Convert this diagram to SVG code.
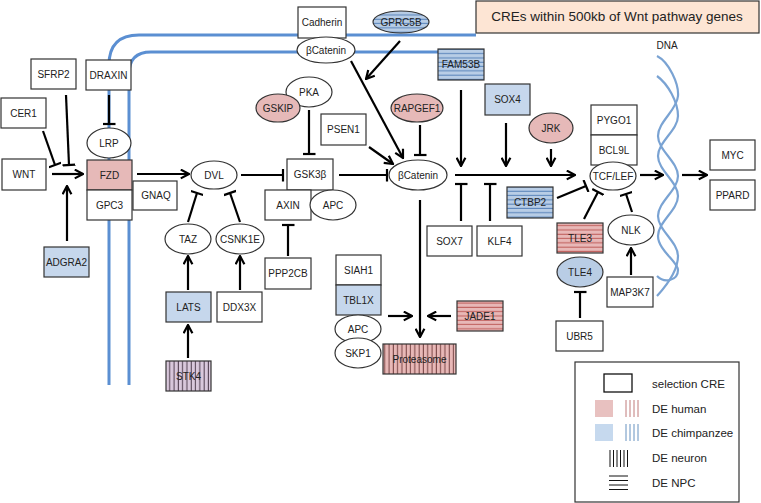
<svg xmlns="http://www.w3.org/2000/svg" width="761" height="503" viewBox="0 0 761 503">
<defs>
<style>
text{font-family:"Liberation Sans",Arial,sans-serif;font-size:10px;fill:#222;text-anchor:middle}
.b{fill:#fff;stroke:#333;stroke-width:1.2}
.pk{fill:#e6b9b8}
.bl{fill:#c6d7ec}
.tb{fill:#b9cde5}
.hb{fill:url(#hBlue)}
.hp{fill:url(#hPink)}
.vp{fill:url(#vPink)}
.vu{fill:url(#vPurple)}
.c line,.c path{stroke:#000;stroke-width:2.2;fill:none}
.a{marker-end:url(#arr)}
.t{marker-end:url(#inh)}
.mem{fill:none;stroke:#5b8fd2;stroke-width:3}
.dna{fill:none;stroke:#7aa3d3;stroke-width:2.2}
.lg{font-size:11.5px;text-anchor:start}
</style>
<marker id="arr" viewBox="0 0 10 10" refX="9" refY="5" markerWidth="11" markerHeight="11" markerUnits="userSpaceOnUse" orient="auto">
<path d="M1.5,1 L9,5 L1.5,9" fill="none" stroke="#000" stroke-width="2"/>
</marker>
<marker id="inh" viewBox="0 0 4 13" refX="2" refY="6.5" markerWidth="4" markerHeight="13" markerUnits="userSpaceOnUse" orient="auto">
<path d="M2,0 L2,13" stroke="#000" stroke-width="2.2"/>
</marker>
<pattern id="hBlue" patternUnits="userSpaceOnUse" width="10" height="4.3">
<rect width="10" height="4.3" fill="#b8cde6"/><line x1="0" y1="2" x2="10" y2="2" stroke="#4a78b3" stroke-width="0.9"/>
</pattern>
<pattern id="hPink" patternUnits="userSpaceOnUse" width="10" height="4.3">
<rect width="10" height="4.3" fill="#e8b8b7"/><line x1="0" y1="2" x2="10" y2="2" stroke="#b9504d" stroke-width="0.9"/>
</pattern>
<pattern id="vPink" patternUnits="userSpaceOnUse" width="4.3" height="10">
<rect width="4.3" height="10" fill="#e8b8b7"/><line x1="2" y1="0" x2="2" y2="10" stroke="#6a3535" stroke-width="0.9"/>
</pattern>
<pattern id="vPurple" patternUnits="userSpaceOnUse" width="4.3" height="10">
<rect width="4.3" height="10" fill="#d9c8dc"/><line x1="2" y1="0" x2="2" y2="10" stroke="#3d2c3d" stroke-width="0.9"/>
</pattern>
</defs>

<g id="membrane">
<path class="mem" d="M109,385 L109,65 Q109,35 139,35 L476,35"/>
<path class="mem" d="M129,385 L129,74 Q129,52 151,52 L460,52"/>
</g>

<g id="dna">
<path class="dna" d="M657,56 C669,62 679,84 678,96 C677,110 658,122 658,136 C658,150 678,162 678,176 C678,190 658,202 658,216 C658,230 678,242 678,256 C678,270 668,284 657,296"/>
<path class="dna" d="M657,76 C668,84 678,102 678,116 C678,130 658,142 658,156 C658,170 678,182 678,196 C678,210 658,222 658,236 C658,250 678,262 678,270 C678,280 665,284 657,276"/>
<text x="667" y="49" fill="#333">DNA</text>
</g>

<g id="connectors" class="c">
<line class="a" x1="52" y1="174" x2="83" y2="174"/>
<line class="a" x1="67" y1="241" x2="67" y2="186"/>
<line class="a" x1="137" y1="174" x2="189" y2="174"/>
<line class="a" x1="188" y1="290" x2="188" y2="256"/>
<line class="a" x1="240" y1="290" x2="240" y2="256"/>
<line class="a" x1="188" y1="358" x2="188" y2="325"/>
<line class="a" x1="400" y1="41" x2="366" y2="79"/>
<line class="a" x1="351" y1="61" x2="403" y2="158"/>
<line class="a" x1="369" y1="147" x2="393" y2="164"/>
<line class="a" x1="461" y1="90" x2="461" y2="166"/>
<line class="a" x1="506" y1="123" x2="506" y2="166"/>
<line class="a" x1="551" y1="149" x2="551" y2="166"/>
<line class="a" x1="455" y1="175" x2="575" y2="175"/>
<line class="a" x1="640" y1="175" x2="663" y2="175"/>
<line class="a" x1="682" y1="175" x2="707" y2="175"/>
<line class="a" x1="631" y1="275" x2="631" y2="248"/>
<line class="a" x1="420" y1="200" x2="420" y2="337"/>
<line class="a" x1="388" y1="316" x2="412" y2="316"/>
<line class="a" x1="451" y1="316" x2="428" y2="316"/>
<line class="t" x1="43" y1="131" x2="55" y2="165"/>
<line class="t" x1="66" y1="95" x2="69" y2="165"/>
<line class="t" x1="109" y1="95" x2="109" y2="124"/>
<line class="t" x1="188" y1="222" x2="197" y2="193"/>
<line class="t" x1="240" y1="222" x2="230" y2="193"/>
<line class="t" x1="241" y1="175" x2="283" y2="175"/>
<line class="t" x1="309" y1="110" x2="309" y2="154"/>
<line class="t" x1="339" y1="175" x2="387" y2="175"/>
<line class="t" x1="420" y1="125" x2="420" y2="155"/>
<line class="t" x1="288" y1="256" x2="288" y2="225"/>
<line class="t" x1="461" y1="221" x2="461" y2="184"/>
<line class="t" x1="490" y1="221" x2="490" y2="184"/>
<line class="t" x1="557" y1="198" x2="586" y2="186"/>
<line class="t" x1="584" y1="219" x2="598" y2="192"/>
<line class="t" x1="632" y1="212" x2="626" y2="194"/>
<line class="t" x1="580" y1="318" x2="580" y2="292"/>
</g>

<g id="title"><rect x="476" y="1" width="283" height="32" fill="#fde5d4" stroke="#333" stroke-width="1.2"/><text x="617" y="21" style="font-size:13.5px">CREs within 500kb of Wnt pathway genes</text></g>

<g id="CER1"><rect class="b" x="1" y="98" width="45" height="30"/><text x="23.5" y="116.5">CER1</text></g>
<g id="SFRP2"><rect class="b" x="31" y="59" width="45" height="30"/><text x="53.5" y="77.5">SFRP2</text></g>
<g id="DRAXIN"><rect class="b" x="86" y="60" width="45" height="30"/><text x="108.5" y="78.5">DRAXIN</text></g>
<g id="WNT"><rect class="b" x="2" y="159" width="44" height="31"/><text x="24" y="178">WNT</text></g>
<g id="LRP"><ellipse class="b" cx="109" cy="143" rx="22" ry="15"/><text x="109" y="146.5">LRP</text></g>
<g id="GNAQ"><rect class="b" x="133" y="181" width="44" height="29"/><text x="156" y="199">GNAQ</text></g>
<g id="FZD"><rect class="b pk" x="87" y="160" width="45" height="30"/><text x="109.5" y="178.5">FZD</text></g>
<g id="GPC3"><rect class="b" x="87" y="190" width="45" height="30"/><text x="109.5" y="208.5">GPC3</text></g>
<g id="ADGRA2"><rect class="b bl" x="44" y="247" width="45" height="30"/><text x="66.5" y="265.5">ADGRA2</text></g>
<g id="DVL"><ellipse class="b" cx="214" cy="175" rx="23" ry="14"/><text x="214" y="178.5">DVL</text></g>
<g id="TAZ"><ellipse class="b" cx="188" cy="239" rx="23" ry="15"/><text x="188" y="242.5">TAZ</text></g>
<g id="CSNK1E"><ellipse class="b" cx="240" cy="239" rx="24" ry="15"/><text x="240" y="242.5">CSNK1E</text></g>
<g id="LATS"><rect class="b bl" x="166" y="292" width="45" height="30"/><text x="188.5" y="310.5">LATS</text></g>
<g id="DDX3X"><rect class="b" x="217" y="292" width="45" height="30"/><text x="239.5" y="310.5">DDX3X</text></g>
<g id="STK4"><rect class="b vu" x="166" y="361" width="45" height="30"/><text x="188.5" y="379.5">STK4</text></g>
<g id="Cadherin"><rect class="b" x="298" y="7" width="48" height="31"/><text x="322" y="26">Cadherin</text></g>
<g id="bCatenin_membrane"><ellipse class="b" cx="326" cy="50" rx="29" ry="13"/><text x="326" y="53.5">βCatenin</text></g>
<g id="GPRC5B"><ellipse class="b hb" cx="401" cy="22" rx="28" ry="11"/><text x="401" y="25.5">GPRC5B</text></g>
<g id="PKA"><ellipse class="b" cx="309" cy="92" rx="23" ry="15"/><text x="309" y="95.5">PKA</text></g>
<g id="GSKIP"><ellipse class="b pk" cx="278" cy="108" rx="22" ry="14"/><text x="278" y="111.5">GSKIP</text></g>
<g id="PSEN1"><rect class="b" x="321" y="114" width="45" height="31"/><text x="343.5" y="133">PSEN1</text></g>
<g id="RAPGEF1"><ellipse class="b pk" cx="417" cy="108" rx="26" ry="14"/><text x="417" y="111.5">RAPGEF1</text></g>
<g id="GSK3b"><rect class="b" x="287" y="159" width="46" height="31"/><text x="310" y="178">GSK3β</text></g>
<g id="AXIN"><rect class="b" x="265" y="190" width="46" height="30"/><text x="288" y="208.5">AXIN</text></g>
<g id="APC_GSK"><ellipse class="b" cx="333" cy="205" rx="23" ry="15"/><text x="333" y="208.5">APC</text></g>
<g id="PPP2CB"><rect class="b" x="265" y="258" width="46" height="31"/><text x="288" y="277">PPP2CB</text></g>
<g id="bCatenin"><ellipse class="b" cx="418" cy="175" rx="29" ry="15"/><text x="418" y="178.5">βCatenin</text></g>
<g id="FAM53B"><rect class="b hb" x="438" y="49" width="46" height="31"/><text x="461" y="68">FAM53B</text></g>
<g id="SOX4"><rect class="b bl" x="485" y="84" width="45" height="31"/><text x="507.5" y="103">SOX4</text></g>
<g id="JRK"><ellipse class="b pk" cx="551" cy="128" rx="22" ry="15"/><text x="551" y="131.5">JRK</text></g>
<g id="SOX7"><rect class="b" x="427" y="226" width="45" height="30"/><text x="449.5" y="244.5">SOX7</text></g>
<g id="KLF4"><rect class="b" x="477" y="226" width="45" height="30"/><text x="499.5" y="244.5">KLF4</text></g>
<g id="SIAH1"><rect class="b" x="336" y="255" width="45" height="30"/><text x="358.5" y="273.5">SIAH1</text></g>
<g id="TBL1X"><rect class="b bl" x="336" y="285" width="45" height="30"/><text x="358.5" y="303.5">TBL1X</text></g>
<g id="APC_deg"><ellipse class="b" cx="358" cy="329" rx="23" ry="14"/><text x="358" y="332.5">APC</text></g>
<g id="SKP1"><ellipse class="b" cx="358" cy="353" rx="23" ry="15"/><text x="358" y="356.5">SKP1</text></g>
<g id="JADE1"><rect class="b hp" x="457" y="301" width="46" height="30"/><text x="480" y="319.5">JADE1</text></g>
<g id="Proteasome"><rect class="b vp" x="383" y="344" width="73" height="30"/><text x="419.5" y="362.5">Proteasome</text></g>
<g id="PYGO1"><rect class="b" x="591" y="105" width="46" height="30"/><text x="614" y="123.5">PYGO1</text></g>
<g id="BCL9L"><rect class="b" x="591" y="135" width="46" height="30"/><text x="614" y="153.5">BCL9L</text></g>
<g id="TCF_LEF"><ellipse class="b" cx="613" cy="176" rx="23" ry="14"/><text x="613" y="179.5">TCF/LEF</text></g>
<g id="CTBP2"><rect class="b hb" x="507" y="187" width="46" height="31"/><text x="530" y="206">CTBP2</text></g>
<g id="TLE3"><rect class="b hp" x="557" y="223" width="46" height="30"/><text x="580" y="241.5">TLE3</text></g>
<g id="NLK"><ellipse class="b" cx="631" cy="230" rx="23" ry="15"/><text x="631" y="233.5">NLK</text></g>
<g id="TLE4"><ellipse class="b tb" cx="580" cy="272" rx="23" ry="15"/><text x="580" y="275.5">TLE4</text></g>
<g id="MAP3K7"><rect class="b" x="607" y="277" width="46" height="30"/><text x="630" y="295.5">MAP3K7</text></g>
<g id="UBR5"><rect class="b" x="556" y="321" width="47" height="30"/><text x="579.5" y="339.5">UBR5</text></g>
<g id="MYC"><rect class="b" x="710" y="140" width="45" height="30"/><text x="732.5" y="158.5">MYC</text></g>
<g id="PPARD"><rect class="b" x="710" y="180" width="45" height="30"/><text x="732.5" y="198.5">PPARD</text></g>

<g id="legend">
<rect x="575" y="362" width="164" height="140" fill="#fff" stroke="#333" stroke-width="1.2"/>
<rect x="604" y="374" width="28" height="18" fill="#fff" stroke="#111" stroke-width="1.3"/>
<rect x="595" y="400" width="18" height="17" fill="#e8c1c0"/>
<g stroke="#c07a7a" stroke-width="1"><line x1="626" y1="400" x2="626" y2="417"/><line x1="630" y1="400" x2="630" y2="417"/><line x1="634" y1="400" x2="634" y2="417"/><line x1="638" y1="400" x2="638" y2="417"/></g>
<rect x="595" y="424" width="18" height="17" fill="#c6d9ee"/>
<g stroke="#6792c0" stroke-width="1"><line x1="626" y1="424" x2="626" y2="441"/><line x1="630" y1="424" x2="630" y2="441"/><line x1="634" y1="424" x2="634" y2="441"/><line x1="638" y1="424" x2="638" y2="441"/></g>
<g stroke="#111" stroke-width="1"><line x1="610" y1="450" x2="610" y2="467"/><line x1="613.5" y1="450" x2="613.5" y2="467"/><line x1="617" y1="450" x2="617" y2="467"/><line x1="620.5" y1="450" x2="620.5" y2="467"/><line x1="624" y1="450" x2="624" y2="467"/><line x1="627.5" y1="450" x2="627.5" y2="467"/></g>
<g stroke="#111" stroke-width="1"><line x1="609" y1="476" x2="628" y2="476"/><line x1="609" y1="480.5" x2="628" y2="480.5"/><line x1="609" y1="485" x2="628" y2="485"/><line x1="609" y1="489.5" x2="628" y2="489.5"/></g>
<text class="lg" x="652" y="388">selection CRE</text>
<text class="lg" x="652" y="413">DE human</text>
<text class="lg" x="652" y="437">DE chimpanzee</text>
<text class="lg" x="652" y="462">DE neuron</text>
<text class="lg" x="652" y="487">DE NPC</text>
</g>
</svg>
